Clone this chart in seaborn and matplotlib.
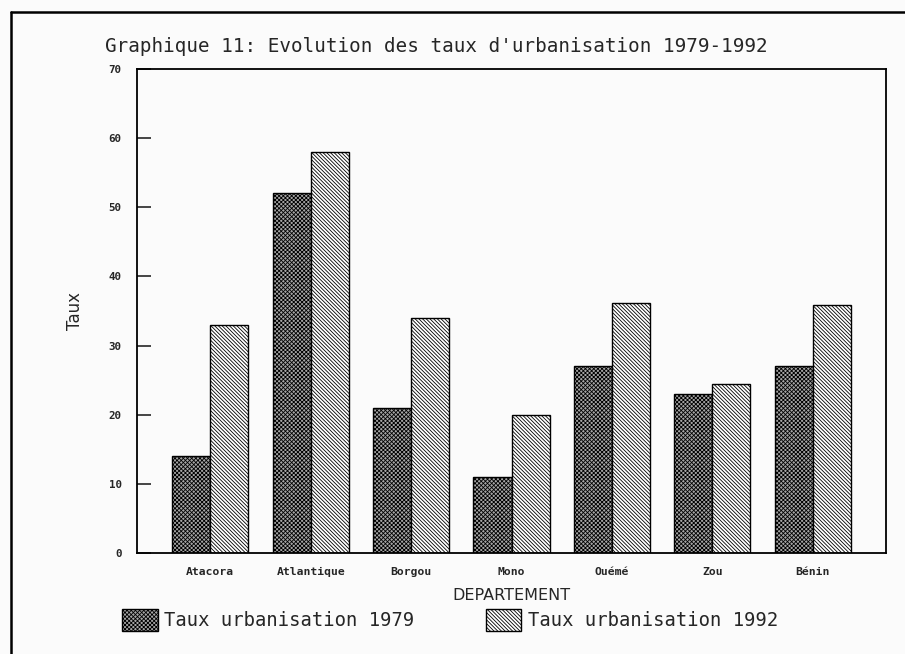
import numpy as np
import pandas as pd
import seaborn as sns
import matplotlib
matplotlib.use('Agg')
import matplotlib.pyplot as plt
from matplotlib.patches import Patch
from matplotlib.lines import Line2D

departements = ['Atacora', 'Atlantique', 'Borgou', 'Mono', 'Ouémé', 'Zou', 'Bénin']
taux_1979 = [14, 52, 21, 11, 27, 23, 27]
taux_1992 = [33, 58, 34, 20, 36.2, 24.5, 35.8]
series = ['Taux urbanisation 1979', 'Taux urbanisation 1992']
yticks = [0, 10, 20, 30, 40, 50, 60, 70]

df = pd.DataFrame({
    'DEPARTEMENT': departements * 2,
    'Taux': taux_1979 + taux_1992,
    'Serie': [series[0]] * len(departements) + [series[1]] * len(departements),
})

sns.set_style('white')
plt.rcParams['hatch.linewidth'] = 0.6
mono = 'DejaVu Sans Mono'
fill_79 = '#a6a6a6'

fig = plt.figure(figsize=(9.05, 6.54), dpi=100, facecolor='#fbfbfb')
ax = fig.add_axes([137/905, 1-553/654, (886-137)/905, (553-69)/654])
ax.set_facecolor('#fbfbfb')

sns.barplot(data=df, x='DEPARTEMENT', y='Taux', hue='Serie', ax=ax,
            palette=[fill_79, 'white'], width=0.76, gap=0,
            edgecolor='black', linewidth=1.0, legend=False)

hatches = ['xxxxxxxx', '\\\\\\\\\\\\\\\\\\']
for cont, h in zip(ax.containers, hatches):
    for bar in cont:
        bar.set_hatch(h)

ax.set_xlim(-0.73, 6.73)
ax.set_ylim(0, 70)
ax.set_yticks(yticks)
ax.set_yticklabels([str(t) for t in yticks], fontsize=7.8, family=mono, fontweight='bold')
ax.set_xticks(range(len(departements)))
ax.set_xticklabels(departements, fontsize=8.2, family=mono, fontweight='bold')
ax.tick_params(axis='y', direction='in', length=10, width=1.2, pad=11, left=True)
ax.tick_params(axis='x', length=0, pad=10)
for s in ax.spines.values():
    s.set_visible(True)
    s.set_color('black')
    s.set_linewidth(1.3)

ax.set_xlabel('DEPARTEMENT', fontsize=11.5, labelpad=8)
ax.set_ylabel('Taux', fontsize=12, labelpad=18)

fig.text(105/905, 1-47/654, "Graphique 11: Evolution des taux d'urbanisation 1979-1992",
         family=mono, fontsize=13.9, ha='left', va='center')

handles = [Patch(facecolor=fill_79, edgecolor='black', hatch=hatches[0], linewidth=1.0),
           Patch(facecolor='white', edgecolor='black', hatch=hatches[1], linewidth=1.0)]
fig.legend(handles, series, loc='center left', bbox_to_anchor=(122/905, 1-620/654),
           ncol=2, frameon=False, borderpad=0, borderaxespad=0,
           handlelength=1.9, handleheight=1.35, handletextpad=0.35, columnspacing=3.75,
           prop={'family': mono, 'size': 13.6})

# cadre du document
fig.add_artist(Line2D([11/905, 11/905], [0, 1-12/654], color='black', lw=1.8, transform=fig.transFigure))
fig.add_artist(Line2D([11/905, 1], [1-12/654, 1-12/654], color='black', lw=1.8, transform=fig.transFigure))

fig.savefig('out.png', dpi=100, facecolor=fig.get_facecolor())
